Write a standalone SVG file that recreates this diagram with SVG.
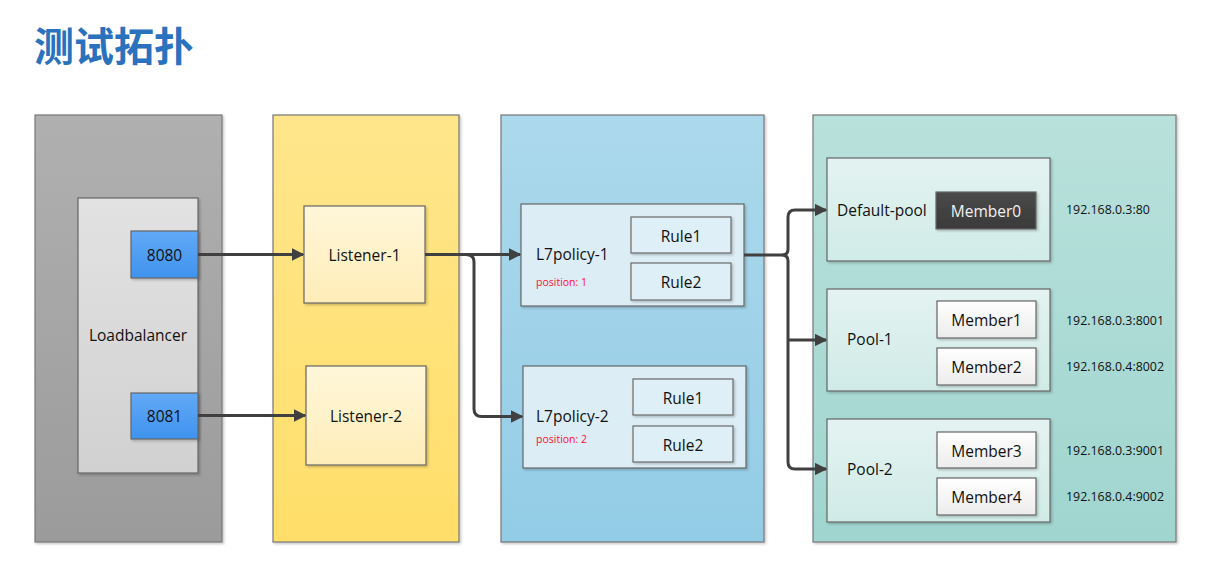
<svg xmlns="http://www.w3.org/2000/svg" width="1220" height="572" viewBox="0 0 1220 572">
  <defs>
    <linearGradient id="gGray" x1="0" y1="0" x2="0" y2="1">
      <stop offset="0" stop-color="#b0b0b0"/>
      <stop offset="1" stop-color="#9b9b9b"/>
    </linearGradient>
    <linearGradient id="gLb" x1="0" y1="0" x2="0" y2="1">
      <stop offset="0" stop-color="#e2e2e2"/>
      <stop offset="1" stop-color="#d0d1d0"/>
    </linearGradient>
    <linearGradient id="gPort" x1="0" y1="0" x2="0" y2="1">
      <stop offset="0" stop-color="#62a9f6"/>
      <stop offset="1" stop-color="#3f93ee"/>
    </linearGradient>
    <linearGradient id="gYellow" x1="0" y1="0" x2="0" y2="1">
      <stop offset="0" stop-color="#ffe68c"/>
      <stop offset="1" stop-color="#ffde69"/>
    </linearGradient>
    <linearGradient id="gListener" x1="0" y1="0" x2="0" y2="1">
      <stop offset="0" stop-color="#fff7da"/>
      <stop offset="1" stop-color="#ffedb8"/>
    </linearGradient>
    <linearGradient id="gBlue" x1="0" y1="0" x2="0" y2="1">
      <stop offset="0" stop-color="#acd9ec"/>
      <stop offset="1" stop-color="#93cce6"/>
    </linearGradient>
    <linearGradient id="gTeal" x1="0" y1="0" x2="0" y2="1">
      <stop offset="0" stop-color="#b9e1dc"/>
      <stop offset="1" stop-color="#a0d5cf"/>
    </linearGradient>
    <linearGradient id="gPool" x1="0" y1="0" x2="0" y2="1">
      <stop offset="0" stop-color="#e4f3f1"/>
      <stop offset="1" stop-color="#d0ebe7"/>
    </linearGradient>
    <linearGradient id="gMember" x1="0" y1="0" x2="0" y2="1">
      <stop offset="0" stop-color="#ffffff"/>
      <stop offset="1" stop-color="#ececec"/>
    </linearGradient>
    <linearGradient id="gDark" x1="0" y1="0" x2="0" y2="1">
      <stop offset="0" stop-color="#4a4a4a"/>
      <stop offset="1" stop-color="#3a3a3a"/>
    </linearGradient>
    <filter id="shadow" x="-5%" y="-5%" width="115%" height="115%">
      <feDropShadow dx="1.5" dy="1.5" stdDeviation="0.8" flood-color="#000" flood-opacity="0.22"/>
    </filter>
    <marker id="arrow" viewBox="0 0 10 10" refX="9" refY="5" markerWidth="4.2" markerHeight="4.2" orient="auto" markerUnits="strokeWidth">
      <path d="M0,0 L10,5 L0,10 z" fill="#404040"/>
    </marker>
  </defs>
  <style>
    .panel { stroke: #777; stroke-width: 1.2; filter: url(#shadow); }
    .box { stroke: #666; stroke-width: 1.2; filter: url(#shadow); }
    .rule { fill: #deeff7; stroke: #6a6a6a; stroke-width: 1.2; filter: url(#shadow); }
    .policy { fill: #dcedf6; stroke: #666; stroke-width: 1.2; filter: url(#shadow); }
    .lbl { font-family: "Open Sans", "Noto Sans", "DejaVu Sans", sans-serif; font-size: 15.5px; fill: #111; }
    .mid { text-anchor: middle; dominant-baseline: central; }
    .pos { font-family: "Open Sans", "Noto Sans", sans-serif; font-size: 10.5px; fill: #ff1030; }
    .ip { font-family: "Open Sans", "Noto Sans", sans-serif; font-size: 12.4px; fill: #111; }
    .wire { fill: none; stroke: #404040; stroke-width: 3; stroke-linejoin: round; }
  </style>

  <!-- heading -->
  <text x="34" y="61" font-family="'Noto Sans CJK SC', 'Noto Sans CJK JP', sans-serif" font-weight="bold" font-size="40" fill="#2a72be">测试拓扑</text>

  <!-- column backgrounds -->
  <rect id="col-lb" class="panel" x="35" y="115" width="187" height="427" fill="url(#gGray)"/>
  <rect id="col-listener" class="panel" x="273" y="115" width="186" height="427" fill="url(#gYellow)"/>
  <rect id="col-policy" class="panel" x="501" y="115" width="263" height="427" fill="url(#gBlue)"/>
  <rect id="col-pool" class="panel" x="813" y="115" width="363" height="427" fill="url(#gTeal)"/>

  <!-- load balancer -->
  <g id="loadbalancer">
    <rect class="box" x="78" y="198" width="120" height="275" fill="url(#gLb)"/>
    <text class="lbl mid" x="138" y="335">Loadbalancer</text>
  </g>
  <g id="port-8080">
    <rect class="box" x="131" y="231" width="67" height="47" fill="url(#gPort)"/>
    <text class="lbl mid" x="164.5" y="254.5">8080</text>
  </g>
  <g id="port-8081">
    <rect class="box" x="131" y="393" width="67" height="46" fill="url(#gPort)"/>
    <text class="lbl mid" x="164.5" y="415.5">8081</text>
  </g>

  <!-- listeners -->
  <g id="listener-1">
    <rect class="box" x="304" y="206" width="121" height="97" fill="url(#gListener)"/>
    <text class="lbl mid" x="364.5" y="254.5">Listener-1</text>
  </g>
  <g id="listener-2">
    <rect class="box" x="306" y="366" width="120" height="99" fill="url(#gListener)"/>
    <text class="lbl mid" x="366" y="415.5">Listener-2</text>
  </g>

  <!-- l7 policies -->
  <g id="l7policy-1">
    <rect class="policy" x="521" y="204" width="223" height="102"/>
    <text class="lbl" x="536" y="260">L7policy-1</text>
    <text class="pos" x="536" y="286">position: 1</text>
    <rect class="rule" x="631" y="217" width="100" height="36"/>
    <text class="lbl mid" x="681" y="235.5">Rule1</text>
    <rect class="rule" x="631" y="263" width="100" height="37"/>
    <text class="lbl mid" x="681" y="282">Rule2</text>
  </g>
  <g id="l7policy-2">
    <rect class="policy" x="523" y="366" width="223" height="102"/>
    <text class="lbl" x="536" y="422">L7policy-2</text>
    <text class="pos" x="536" y="443">position: 2</text>
    <rect class="rule" x="633" y="379" width="100" height="36"/>
    <text class="lbl mid" x="683" y="397.5">Rule1</text>
    <rect class="rule" x="633" y="426" width="100" height="36"/>
    <text class="lbl mid" x="683" y="444.5">Rule2</text>
  </g>

  <!-- pools -->
  <g id="default-pool">
    <rect class="box" x="827" y="158" width="223" height="103" fill="url(#gPool)"/>
    <text class="lbl" x="837" y="216">Default-pool</text>
    <rect class="box" x="936" y="192" width="100" height="37" fill="url(#gDark)"/>
    <text class="lbl mid" x="986" y="211" style="fill:#f2f2f2">Member0</text>
    <text class="ip" x="1066" y="214">192.168.0.3:80</text>
  </g>
  <g id="pool-1">
    <rect class="box" x="827" y="289" width="223" height="102" fill="url(#gPool)"/>
    <text class="lbl" x="847" y="345">Pool-1</text>
    <rect class="box" x="937" y="301" width="99" height="37" fill="url(#gMember)"/>
    <text class="lbl mid" x="986.5" y="320">Member1</text>
    <rect class="box" x="937" y="348" width="99" height="37" fill="url(#gMember)"/>
    <text class="lbl mid" x="986.5" y="367">Member2</text>
    <text class="ip" x="1066" y="325">192.168.0.3:8001</text>
    <text class="ip" x="1066" y="371">192.168.0.4:8002</text>
  </g>
  <g id="pool-2">
    <rect class="box" x="827" y="419" width="223" height="103" fill="url(#gPool)"/>
    <text class="lbl" x="847" y="475">Pool-2</text>
    <rect class="box" x="937" y="432" width="99" height="36" fill="url(#gMember)"/>
    <text class="lbl mid" x="986.5" y="450.5">Member3</text>
    <rect class="box" x="937" y="478" width="99" height="37" fill="url(#gMember)"/>
    <text class="lbl mid" x="986.5" y="497">Member4</text>
    <text class="ip" x="1066" y="455">192.168.0.3:9001</text>
    <text class="ip" x="1066" y="501">192.168.0.4:9002</text>
  </g>

  <!-- connectors -->
  <g id="connectors">
    <path class="wire" d="M198,254.5 H303" marker-end="url(#arrow)"/>
    <path class="wire" d="M198,415.5 H305" marker-end="url(#arrow)"/>
    <path class="wire" d="M425,254.5 H520" marker-end="url(#arrow)"/>
    <path class="wire" d="M466,254.5 Q474,254.5 474,262 V409 Q474,416.5 482,416.5 H522" marker-end="url(#arrow)"/>
    <path class="wire" d="M744,255 H782 Q788,255 788,249 V217 Q788,210 795,210 H826" marker-end="url(#arrow)"/>
    <path class="wire" d="M782,255 Q788,255 788,261 V462 Q788,469 795,469 H826" marker-end="url(#arrow)"/>
    <path class="wire" d="M788,340 H826" marker-end="url(#arrow)"/>
  </g>
</svg>
